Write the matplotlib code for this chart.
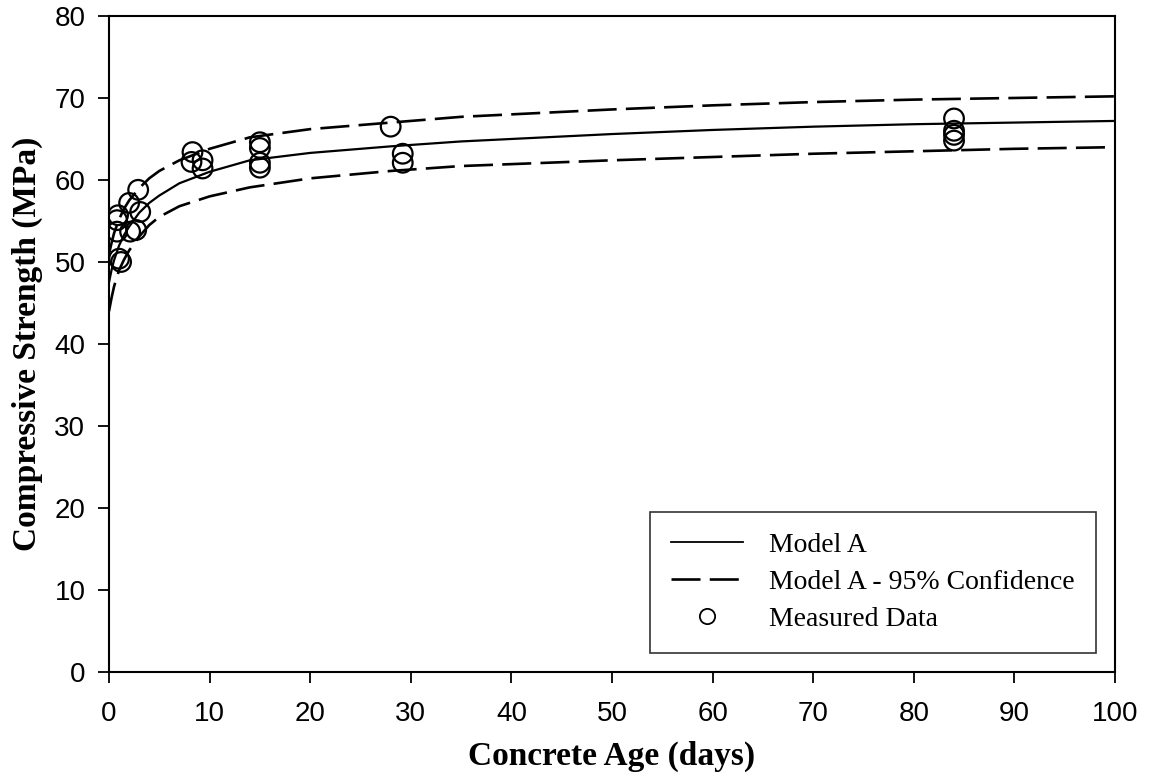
import matplotlib
matplotlib.use("Agg")
import matplotlib.pyplot as plt
from matplotlib.lines import Line2D

# Model curve readings
t_model = [0, 0.25, 0.5, 1, 1.5, 2, 3, 4, 5, 7, 10, 14, 20, 28, 35, 50, 60, 70, 80, 90, 100]
model_a = [47.5, 49.0, 50.2, 52.0, 53.3, 54.3, 56.0, 57.2, 58.1, 59.6, 61.0, 62.4, 63.3, 64.1,
           64.7, 65.6, 66.1, 66.5, 66.8, 67.0, 67.2]
upper_95 = [51.0, 52.3, 53.5, 55.2, 56.5, 57.5, 59.0, 60.2, 61.1, 62.4, 63.8, 65.2, 66.2, 67.0,
            67.7, 68.6, 69.1, 69.5, 69.8, 70.0, 70.2]
lower_95 = [44.0, 45.6, 47.0, 49.0, 50.3, 51.4, 53.1, 54.5, 55.5, 56.8, 58.0, 59.1, 60.2, 61.1,
            61.7, 62.4, 62.8, 63.2, 63.5, 63.8, 64.0]

# Measured data
age_days = [1.0, 1.2, 0.9, 0.8, 0.8, 2.1, 2.7, 3.1, 2.9, 2.0, 8.3, 8.2, 9.3, 9.3,
            15.0, 15.0, 15.0, 15.0, 28.0, 29.2, 29.2, 84, 84, 84, 84]
strength = [50.4, 50.0, 55.7, 55.1, 53.7, 53.7, 53.9, 56.1, 58.8, 57.2, 63.4, 62.2, 62.4, 61.4,
            64.6, 63.9, 62.1, 61.5, 66.5, 63.2, 62.1, 67.5, 66.0, 65.5, 64.8]

x_ticks = list(range(0, 101, 10))
y_ticks = list(range(0, 81, 10))

fig = plt.figure(figsize=(11.51, 7.75), dpi=100)
ax = fig.add_axes([0.0947, 0.1329, 0.874, 0.8465])

dash = (0, (11, 3.5))
ax.plot(t_model, model_a, color="black", lw=1.6, zorder=3)
ax.plot(t_model, upper_95, color="black", lw=1.9, linestyle=dash, zorder=3)
ax.plot(t_model, lower_95, color="black", lw=1.9, linestyle=dash, zorder=3)
ax.scatter(age_days, strength, s=200, facecolors="none", edgecolors="black",
           linewidths=1.6, zorder=4)

ax.set_xlim(0, 100)
ax.set_ylim(0, 80)
ax.set_xticks(x_ticks)
ax.set_yticks(y_ticks)
ax.tick_params(direction="out", length=8, width=1.3, labelsize=20,
               top=False, right=False)
ax.tick_params(axis="x", pad=13)
ax.tick_params(axis="y", pad=9)
for lab in ax.get_xticklabels() + ax.get_yticklabels():
    lab.set_family("Liberation Sans")
for sp in ax.spines.values():
    sp.set_linewidth(1.5)

ax.set_xlabel("Concrete Age (days)", family="Liberation Serif", fontweight="bold",
              fontsize=24, labelpad=10)
ax.set_ylabel("Compressive Strength (MPa)", family="Liberation Serif", fontweight="bold",
              fontsize=24, labelpad=8)

handles = [
    Line2D([], [], color="black", lw=1.3),
    Line2D([], [], color="black", lw=1.9, linestyle=dash),
    Line2D([], [], color="black", marker="o", markersize=11, markerfacecolor="none",
           markeredgewidth=1.3, linestyle="none"),
]
labels = ["Model A", "Model A - 95% Confidence", "Measured Data"]
leg = ax.legend(handles, labels, loc="lower right", bbox_to_anchor=(0.981, 0.029),
                prop={"family": "Liberation Serif", "size": 20}, frameon=True,
                fancybox=False, edgecolor="black", handlelength=2.6, handletextpad=0.95,
                borderpad=0.75, labelspacing=0.42, borderaxespad=0)
leg.get_frame().set_linewidth(1.2)

fig.savefig("out.png", dpi=100)
